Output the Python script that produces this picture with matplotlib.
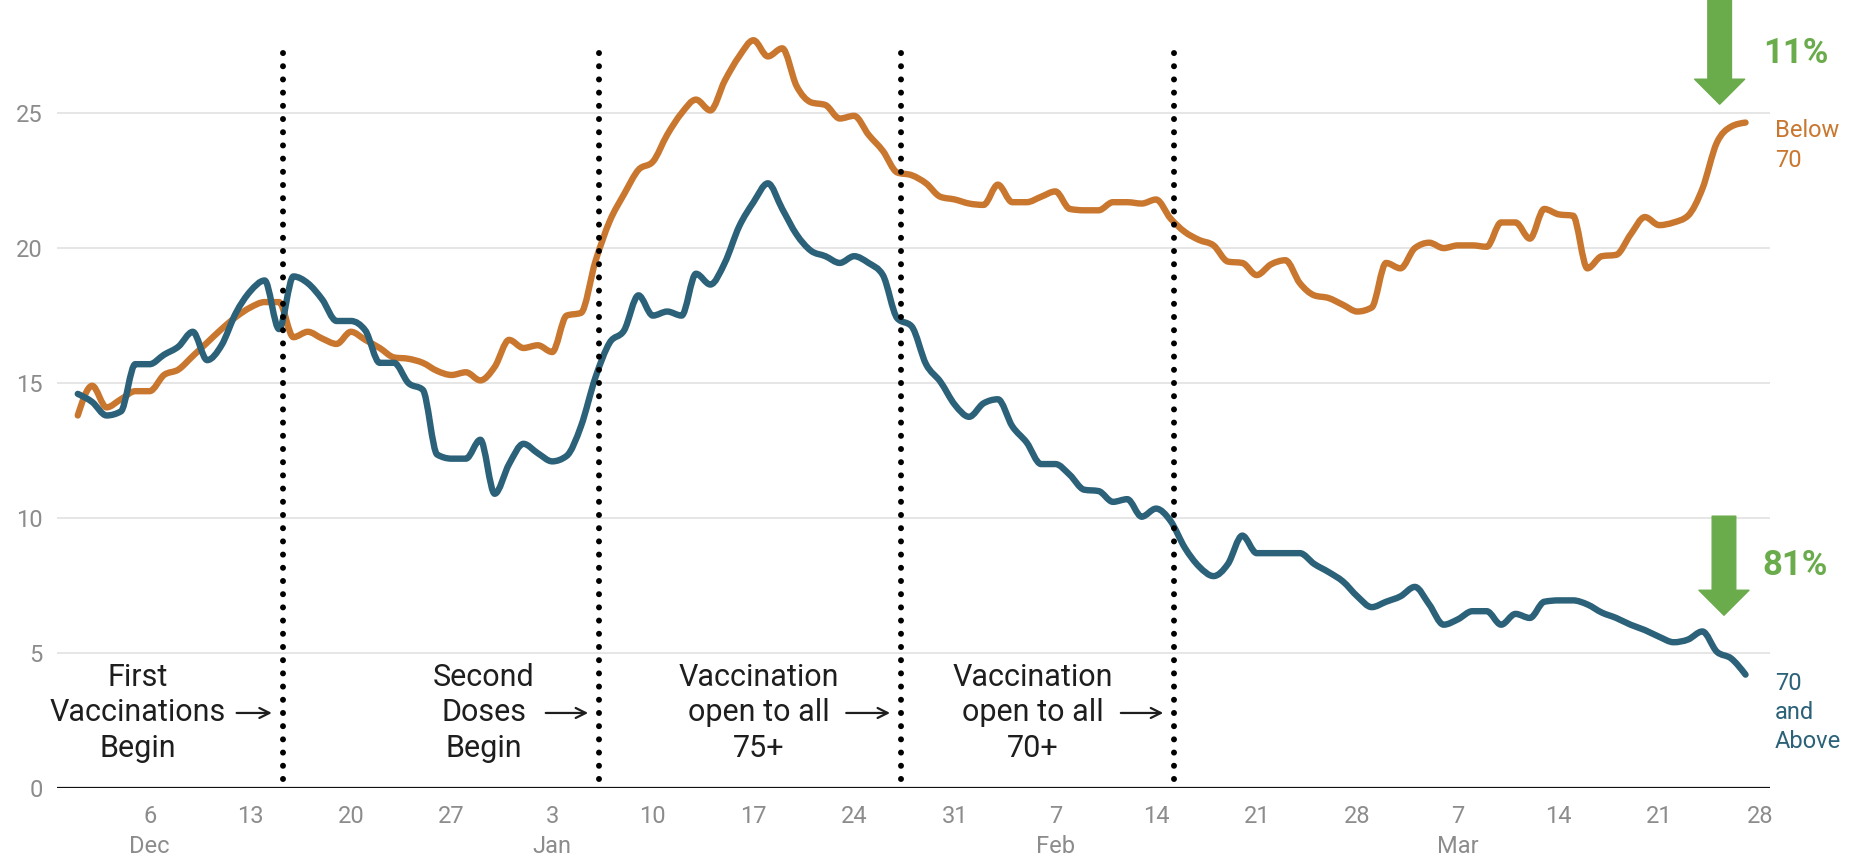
import datetime as dt
import numpy as np
import matplotlib
matplotlib.use("Agg")
import matplotlib.pyplot as plt
import matplotlib.dates as mdates
from matplotlib.path import Path
from matplotlib.patches import PathPatch

plt.rcParams['font.family'] = ['Roboto', 'DejaVu Sans']

# daily values, Dec 1 2020 .. Mar 27 2021
below_70 = [13.8, 14.9, 14.1, 14.4, 14.7, 14.7, 15.3, 15.5, 16.0, 16.5,
            17.0, 17.45, 17.8, 18.0, 18.0, 16.7, 16.9, 16.65, 16.45, 16.9,
            16.6, 16.3, 15.95, 15.9, 15.75, 15.45, 15.3, 15.4, 15.1, 15.6,
            16.6, 16.3, 16.4, 16.15, 17.5, 17.6, 19.5, 21.0, 22.0, 22.9,
            23.2, 24.2, 25.0, 25.5, 25.1, 26.2, 27.1, 27.7, 27.1, 27.4,
            26.0, 25.4, 25.3, 24.8, 24.9, 24.2, 23.6, 22.8, 22.7, 22.4,
            21.9, 21.8, 21.65, 21.6, 22.35, 21.7, 21.7, 21.9, 22.1, 21.45,
            21.4, 21.4, 21.7, 21.7, 21.65, 21.8, 21.1, 20.6, 20.3, 20.1,
            19.5, 19.45, 19.0, 19.4, 19.55, 18.7, 18.25, 18.15, 17.9, 17.65,
            17.8, 19.45, 19.25, 20.0, 20.2, 20.0, 20.1, 20.1, 20.05, 20.95,
            20.95, 20.35, 21.45, 21.25, 21.2, 19.25, 19.7, 19.75, 20.5, 21.15,
            20.85, 20.95, 21.2, 22.2, 23.9, 24.5, 24.65]
above_70 = [14.6, 14.3, 13.8, 13.95, 15.7, 15.7, 16.05, 16.35, 16.9, 15.85,
            16.4, 17.6, 18.4, 18.8, 17.0, 18.95, 18.7, 18.1, 17.3, 17.3,
            16.95, 15.75, 15.75, 15.0, 14.75, 12.35, 12.2, 12.2, 12.9, 10.9,
            12.0, 12.75, 12.4, 12.1, 12.3, 13.4, 15.2, 16.5, 16.95, 18.25,
            17.5, 17.65, 17.5, 19.05, 18.65, 19.45, 20.8, 21.7, 22.4, 21.45,
            20.5, 19.9, 19.7, 19.45, 19.7, 19.45, 19.0, 17.4, 17.1, 15.7,
            15.05, 14.2, 13.75, 14.25, 14.4, 13.4, 12.8, 12.0, 12.0, 11.6,
            11.05, 11.0, 10.6, 10.7, 10.05, 10.35, 9.9, 8.9, 8.2, 7.85,
            8.3, 9.35, 8.7, 8.7, 8.7, 8.7, 8.3, 8.0, 7.65, 7.1,
            6.7, 6.9, 7.1, 7.45, 6.8, 6.05, 6.25, 6.55, 6.55, 6.05,
            6.45, 6.3, 6.9, 6.95, 6.95, 6.8, 6.5, 6.3, 6.05, 5.85,
            5.6, 5.4, 5.5, 5.8, 5.05, 4.8, 4.2]

event_dates = ["2020-12-15", "2021-01-06", "2021-01-27", "2021-02-15"]
event_labels = ["First\nVaccinations\nBegin", "Second\nDoses\nBegin",
                "Vaccination\nopen to all\n75+", "Vaccination\nopen to all\n70+"]
drops = ["11%", "81%"]

orange = '#C9772F'
blue = '#2B6179'
green = '#6AAB4C'
grey = '#8c8c8c'

start = mdates.date2num(dt.datetime(2020, 12, 1))
x = np.array([start + i for i in range(len(below_70))])
dec6 = mdates.date2num(dt.datetime(2020, 12, 6))


def monotone_path(xs, ys):
    # cubic bezier path with monotone-x tangents (like d3 curveMonotoneX)
    xs = np.asarray(xs, float)
    ys = np.asarray(ys, float)
    h = np.diff(xs)
    s = np.diff(ys) / h
    t = np.zeros_like(ys)
    for i in range(1, len(ys) - 1):
        p = (s[i - 1] * h[i] + s[i] * h[i - 1]) / (h[i - 1] + h[i])
        t[i] = (np.sign(s[i - 1]) + np.sign(s[i])) * min(abs(s[i - 1]), abs(s[i]), 0.5 * abs(p))
    t[0] = (3 * s[0] - t[1]) / 2
    t[-1] = (3 * s[-1] - t[-2]) / 2
    verts = [(xs[0], ys[0])]
    codes = [Path.MOVETO]
    for i in range(len(xs) - 1):
        dx = h[i] / 3
        verts += [(xs[i] + dx, ys[i] + dx * t[i]),
                  (xs[i + 1] - dx, ys[i + 1] - dx * t[i + 1]),
                  (xs[i + 1], ys[i + 1])]
        codes += [Path.CURVE4] * 3
    return Path(verts, codes)


fig = plt.figure(figsize=(18.6, 8.65), dpi=100)
ax = fig.add_axes([0.0306, 0.089, 0.921, 0.911])

for v in [5, 10, 15, 20, 25]:
    ax.axhline(v, color='#e2e2e2', lw=1.2, zorder=0)
ax.axhline(0, color='#111111', lw=1.6, zorder=1)

for ys, c in [(below_70, orange), (above_70, blue)]:
    ax.add_patch(PathPatch(monotone_path(x, ys), facecolor='none', edgecolor=c,
                           lw=4.6, joinstyle='round', capstyle='round', zorder=3))

# event lines + labels
text_off = [-10.1, -8.0, -9.9, -9.8]
arrow_from = [-3.2, -3.7, -3.8, -3.7]
for d, lab, to, af in zip(event_dates, event_labels, text_off, arrow_from):
    xv = mdates.date2num(dt.datetime.fromisoformat(d)) + 0.25
    ax.plot([xv, xv], [0.33, 27.3], color='black', lw=4.3,
            dashes=(0.01, 2.2), dash_capstyle='round', zorder=4)
    ax.text(xv + to, 2.78, lab, ha='center', va='center', fontsize=22,
            color='#1e1e1e', linespacing=1.27)
    ax.annotate('', xy=(xv - 0.75, 2.78), xytext=(xv + af, 2.78),
                arrowprops=dict(arrowstyle='->', lw=1.6, color='#1e1e1e',
                                shrinkA=0, shrinkB=0, mutation_scale=18))

# series labels at right end
ax.text(1.003, 23.8, "Below\n70", transform=ax.get_yaxis_transform(),
        ha='left', va='center', fontsize=17, color=orange, linespacing=1.35)
ax.text(1.003, 2.8, "70\nand\nAbove", transform=ax.get_yaxis_transform(),
        ha='left', va='center', fontsize=17, color=blue, linespacing=1.35)

# green drop arrows
for (xa, ytop, ytip, ytxt), lab in zip([(109.2, 29.3, 25.33, 27.2),
                                        (109.5, 10.07, 6.4, 8.26)], drops):
    ax.annotate('', xy=(dec6 + xa, ytip), xytext=(dec6 + xa, ytop),
                arrowprops=dict(arrowstyle='simple,head_width=36,head_length=18,tail_width=17',
                                mutation_scale=1, color=green, shrinkA=0, shrinkB=0),
                annotation_clip=False)
    ax.text(dec6 + 112.2, ytxt, lab, ha='left', va='center', fontsize=25,
            fontweight='bold', color=green, clip_on=False)

# axes styling
ax.set_ylim(0, 29.19)
ax.set_xlim(dec6 - 6.45, dec6 + 112.7)
for s in ax.spines.values():
    s.set_visible(False)
ax.set_yticks([0, 5, 10, 15, 20, 25])
ax.tick_params(axis='y', length=0, pad=10, labelsize=17, labelcolor=grey)

ticks = [dec6 + 7 * k for k in range(17)]
labels = []
prev_month = None
for t in ticks:
    d = mdates.num2date(t)
    lab = str(d.day)
    if d.month != prev_month:
        lab += "\n" + d.strftime('%b')
        prev_month = d.month
    labels.append(lab)
ax.set_xticks(ticks)
ax.set_xticklabels(labels, linespacing=1.4)
ax.tick_params(axis='x', length=0, pad=12, labelsize=17, labelcolor=grey)

fig.savefig('out.png', dpi=100)
